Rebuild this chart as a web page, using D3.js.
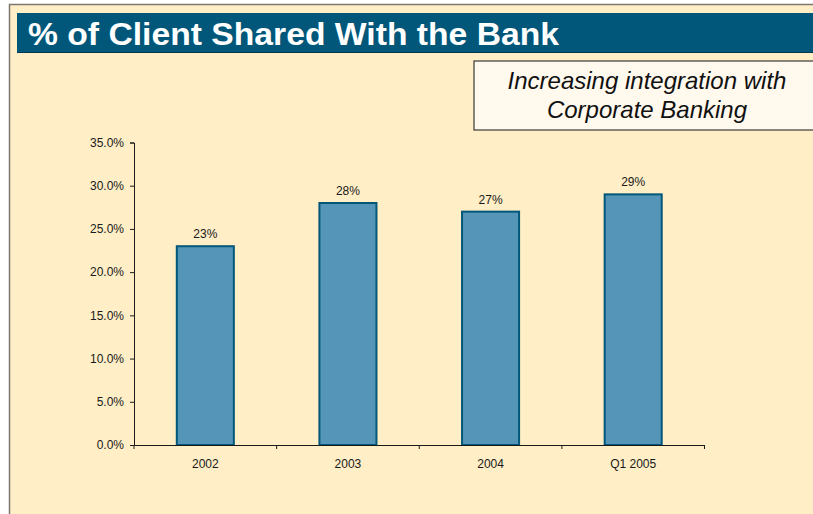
<!DOCTYPE html>
<html>
<head>
<meta charset="utf-8">
<script src="https://cdn.jsdelivr.net/npm/d3@7"></script>
<style>
  html, body { margin: 0; padding: 0; background: #ffffff; }
  svg { display: block; font-family: "Liberation Sans", Arial, sans-serif; }
</style>
</head>
<body>
<svg id="chart" width="813" height="514"></svg>
<script>
// Share of client base shared with the bank, by period
const categories = ["2002", "2003", "2004", "Q1 2005"];
const shareValues = [23, 28, 27, 29];
const yTicks = [0, 5, 10, 15, 20, 25, 30, 35];

const titleText = "% of Client Shared With the Bank";
const noteLines = ["Increasing integration with", "Corporate Banking"];

const svg = d3.select("#chart");
const W = 813, H = 514;

// slide panel
svg.append("rect")
  .attr("x", 9.5).attr("y", 4.5)
  .attr("width", W).attr("height", H)
  .attr("fill", "#FFEEC6")
  .attr("stroke", "#7d7770").attr("stroke-width", 1.5);

// title bar
svg.append("rect")
  .attr("x", 17).attr("y", 13)
  .attr("width", W - 17).attr("height", 40)
  .attr("fill", "#00577A");
svg.append("line")
  .attr("x1", 17).attr("x2", W)
  .attr("y1", 52.5).attr("y2", 52.5)
  .attr("stroke", "#003a52").attr("stroke-width", 1);
svg.append("text")
  .attr("x", 28).attr("y", 45)
  .attr("fill", "#ffffff")
  .attr("font-size", 32).attr("font-weight", "bold")
  .attr("textLength", 531)
  .attr("lengthAdjust", "spacingAndGlyphs")
  .text(titleText);

// note box
svg.append("rect")
  .attr("x", 474).attr("y", 61)
  .attr("width", W - 474 + 5).attr("height", 69)
  .attr("fill", "#FFF9EE")
  .attr("stroke", "#3a3a3a").attr("stroke-width", 1.2);
svg.append("g").selectAll("text")
  .data(noteLines)
  .join("text")
  .attr("x", 647)
  .attr("y", (d, i) => 89 + i * 29)
  .attr("text-anchor", "middle")
  .attr("font-size", 24)
  .attr("font-style", "italic")
  .attr("fill", "#111111")
  .text(d => d);

// plot area bounds
const plotLeft = 134, plotRight = 704.5, plotTop = 142.5, plotBottom = 445;

const x = d3.scaleBand()
  .domain(categories)
  .range([plotLeft, plotRight])
  .paddingInner(0.6)
  .paddingOuter(0.3);

const xOuter = d3.scaleBand()
  .domain(categories)
  .range([plotLeft, plotRight]);

const y = d3.scaleLinear()
  .domain([0, 35])
  .range([plotBottom, plotTop]);

// bars
svg.append("g").selectAll("rect")
  .data(shareValues)
  .join("rect")
  .attr("x", (d, i) => x(categories[i]))
  .attr("y", d => y(d))
  .attr("width", x.bandwidth())
  .attr("height", d => plotBottom - y(d))
  .attr("fill", "#5596B8")
  .attr("stroke", "#00577A")
  .attr("stroke-width", 2);

// value labels
svg.append("g").selectAll("text")
  .data(shareValues)
  .join("text")
  .attr("x", (d, i) => x(categories[i]) + x.bandwidth() / 2)
  .attr("y", d => y(d) - 8)
  .attr("text-anchor", "middle")
  .attr("font-size", 12)
  .attr("fill", "#1a1a1a")
  .text(d => d + "%");

// y axis
const yAxis = svg.append("g")
  .attr("transform", `translate(${plotLeft},0)`)
  .call(d3.axisLeft(y)
    .tickValues(yTicks)
    .tickFormat(d => d.toFixed(1) + "%")
    .tickSize(4)
    .tickPadding(6));
yAxis.selectAll("text").attr("font-size", 12).attr("fill", "#1a1a1a")
  .attr("font-family", "Liberation Sans, Arial, sans-serif");
yAxis.selectAll("line, path").attr("stroke", "#1a1a1a");

// x axis with ticks between categories
const xAxis = svg.append("g")
  .attr("transform", `translate(0,${plotBottom})`)
  .call(d3.axisBottom(xOuter).tickSize(0).tickPadding(14));
xAxis.select(".domain").attr("stroke", "#1a1a1a");
xAxis.selectAll("text").attr("font-size", 12).attr("fill", "#1a1a1a")
  .attr("font-family", "Liberation Sans, Arial, sans-serif");
xAxis.selectAll(".boundary")
  .data(categories.concat(["end"]))
  .join("line")
  .attr("class", "boundary")
  .attr("x1", (d, i) => plotLeft + i * xOuter.step())
  .attr("x2", (d, i) => plotLeft + i * xOuter.step())
  .attr("y1", 0).attr("y2", 4)
  .attr("stroke", "#1a1a1a");
</script>
</body>
</html>
